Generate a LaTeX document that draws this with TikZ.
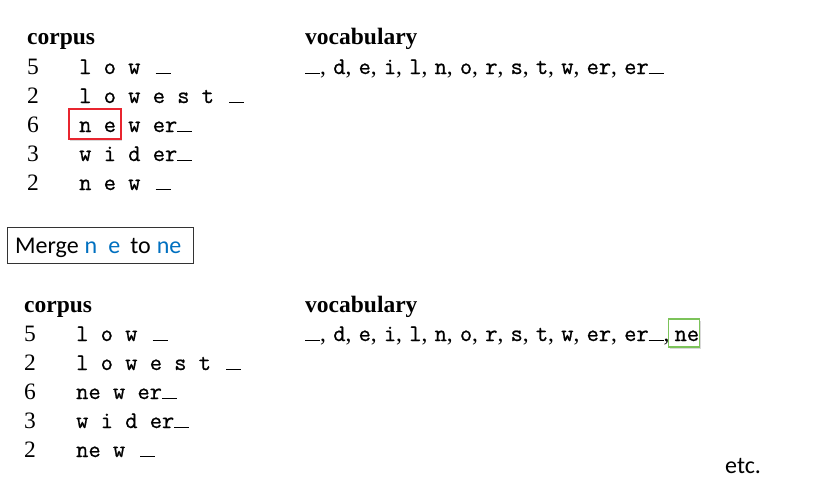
\documentclass[tikz,border=0pt]{standalone}
\usepackage{fontspec}
\setmainfont{Liberation Serif}
\setmonofont{Latin Modern Mono}[FakeBold=0.8]
\setsansfont{Carlito}
\usetikzlibrary{shadows}
\definecolor{mblue}{HTML}{0070C0}
\definecolor{hlred}{HTML}{E8252F}
\definecolor{hlgreen}{HTML}{7CC35A}
\newcommand\usc{\rule[-0.2pt]{15pt}{1.3pt}}
\newcommand\tl[1]{{\fontsize{23.8}{28}\ttfamily #1}}
\newcommand\sep{,\hspace{7.2pt}}
\begin{document}
\begin{tikzpicture}[x=1pt,y=-1pt,
  txt/.style={anchor=base west, inner sep=0pt, font=\fontsize{23.5}{28}\selectfont},
  hdr/.style={anchor=base west, inner sep=0pt, font=\fontsize{23.5}{28}\selectfont\bfseries},
  ttx/.style={anchor=base west, inner sep=0pt, font=\fontsize{23.8}{28}\selectfont\ttfamily},
  sans/.style={anchor=base west, inner sep=0pt, font=\fontsize{24}{28}\selectfont\sffamily},
  hlbox/.style={draw=#1, line width=1.5pt, fill=white, inner sep=0pt,
    drop shadow={opacity=0.3, shadow xshift=1pt, shadow yshift=-1.5pt}},
  mergebox/.style={draw=black!80, line width=0.8pt, inner sep=0pt, fill=white}
]
\useasboundingbox (0,0) rectangle (824,496);
% highlight boxes (drawn first, behind text)
\node[hlbox=hlred, minimum width=52pt, minimum height=30pt] (hlne) at (95,124) {};
\node[hlbox=hlgreen, minimum width=31pt, minimum height=28pt] (hlvoc) at (684,333) {};
\node[mergebox, minimum width=186pt, minimum height=36pt] (merge) at (100,245) {};

% top corpus
\node[hdr] (c1h) at (27,44) {corpus};
\node[txt] (c1n1) at (27,74) {5};
\node[ttx] (c1w1) at (79,74) {l o w \kern3pt\usc};
\node[txt] (c1n2) at (27,103) {2};
\node[ttx] (c1w2) at (79,103) {l o w e s t \kern3pt\usc};
\node[txt] (c1n3) at (27,132) {6};
\node[ttx] (c1w3) at (79,132) {n e w er\usc};
\node[txt] (c1n4) at (27,161) {3};
\node[ttx] (c1w4) at (79,161) {w i d er\usc};
\node[txt] (c1n5) at (27,190) {2};
\node[ttx] (c1w5) at (79,190) {n e w \kern3pt\usc};

% top vocabulary
\node[hdr] (v1h) at (305,44) {vocabulary};
\node[txt] (v1) at (305,74) {\usc\sep\tl{d}\sep\tl{e}\sep\tl{i}\sep\tl{l}\sep\tl{n}\sep\tl{o}\sep\tl{r}\sep\tl{s}\sep\tl{t}\sep\tl{w}\sep\tl{er}\sep\tl{er}\usc};

% merge text
\node[sans] (mtxt) at (15,253) {Merge\hspace{6pt}\textcolor{mblue}{n\hspace{11pt}e}\hspace{10pt}to\hspace{6pt}\textcolor{mblue}{ne}};

% bottom corpus
\node[hdr] (c2h) at (24,312) {corpus};
\node[txt] (c2n1) at (24,341) {5};
\node[ttx] (c2w1) at (76,341) {l o w \kern3pt\usc};
\node[txt] (c2n2) at (24,370) {2};
\node[ttx] (c2w2) at (76,370) {l o w e s t \kern3pt\usc};
\node[txt] (c2n3) at (24,399) {6};
\node[ttx] (c2w3) at (76,399) {ne w er\usc};
\node[txt] (c2n4) at (24,428) {3};
\node[ttx] (c2w4) at (76,428) {w i d er\usc};
\node[txt] (c2n5) at (24,457) {2};
\node[ttx] (c2w5) at (76,457) {ne w \kern3pt\usc};

% bottom vocabulary
\node[hdr] (v2h) at (305,312) {vocabulary};
\node[txt] (v2) at (305,341) {\usc\sep\tl{d}\sep\tl{e}\sep\tl{i}\sep\tl{l}\sep\tl{n}\sep\tl{o}\sep\tl{r}\sep\tl{s}\sep\tl{t}\sep\tl{w}\sep\tl{er}\sep\tl{er}\usc,\hspace{5pt}\tl{ne}};

\node[sans] (etc) at (725,473) {etc.};
\end{tikzpicture}
\end{document}
